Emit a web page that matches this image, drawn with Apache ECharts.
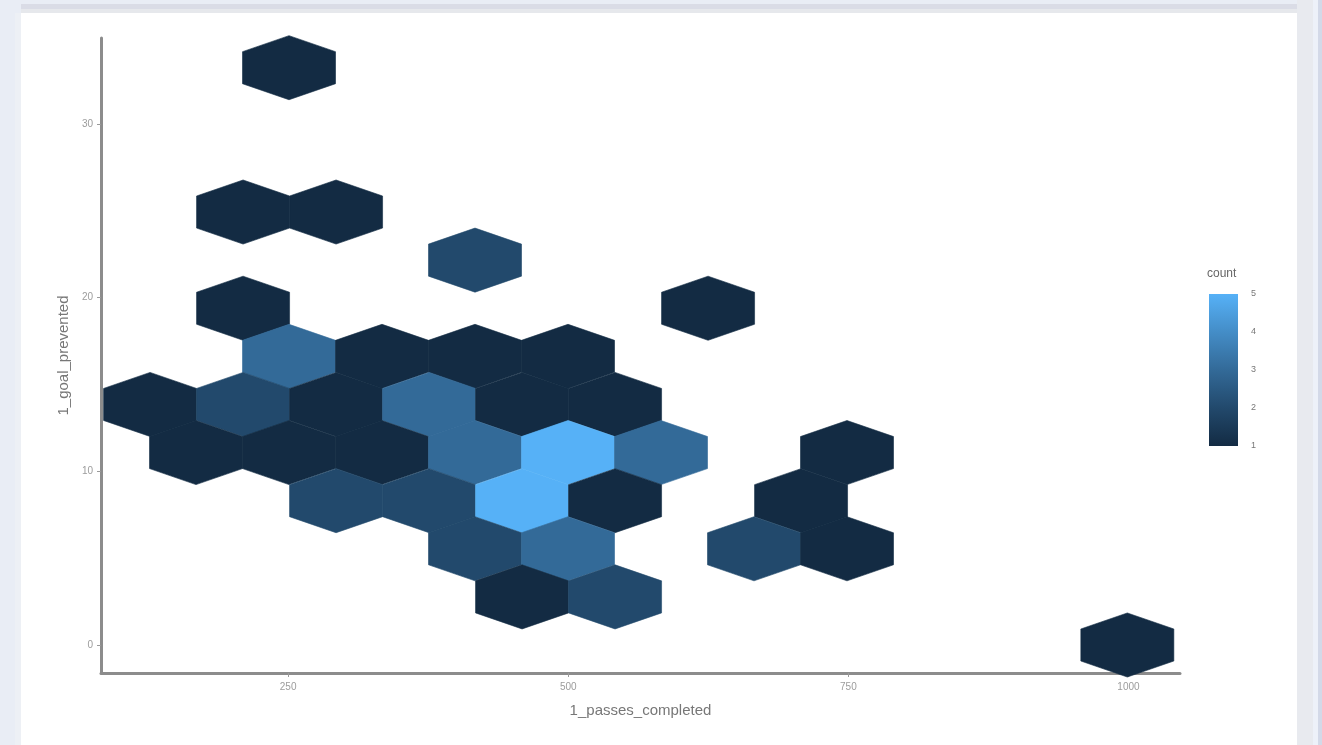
<!DOCTYPE html>
<html>
<head>
<meta charset="utf-8">
<title>Hexbin: passes completed vs goals prevented</title>
<script src="https://cdn.jsdelivr.net/npm/echarts@6/dist/echarts.min.js"></script>
<style>
  html, body { margin: 0; padding: 0; width: 1322px; height: 745px; overflow: hidden; background: #e9edf5; }
  .band { position: absolute; }
  #chart { position: absolute; left: 0; top: 0; width: 1322px; height: 745px; }
</style>
</head>
<body>
<!-- page frame around the chart card -->
<div class="band" style="left:21px;top:4px;width:1276px;height:5px;background:#dadce6;"></div>
<div class="band" style="left:21px;top:9px;width:1276px;height:4px;background:#e6e8ec;"></div>
<div class="band" style="left:15px;top:13px;width:6px;height:732px;background:#edf0f5;"></div>
<div class="band" style="left:21px;top:13px;width:1276px;height:732px;background:#ffffff;"></div>
<div class="band" style="left:1297px;top:0;width:16px;height:745px;background:#e8eaef;"></div>
<div class="band" style="left:1313px;top:0;width:5px;height:745px;background:#edf1f9;"></div>
<div class="band" style="left:1318px;top:0;width:4px;height:745px;background:#d3d9e8;"></div>
<div id="chart"></div>
<script>
// Axis ticks
const xTicks = [250, 500, 750, 1000];
const yTicks = [0, 10, 20, 30];
const countTicks = [1, 2, 3, 4, 5];

// Hex bin centres and the number of players in each bin
const hexX = [
  250.8,
  209.8, 292.8,
  416.8,
  209.8, 624.8,
  250.8, 333.8, 416.8, 499.8,
  126.8, 209.8, 292.8, 375.8, 458.8, 541.8,
  167.8, 250.8, 333.8, 416.8, 499.8, 582.8, 748.8,
  292.8, 375.8, 458.8, 541.8, 707.8,
  416.8, 499.8, 665.8, 748.8,
  458.8, 541.8,
  999.0
];
const hexY = [
  33.24,
  24.93, 24.93,
  22.16,
  19.39, 19.39,
  16.62, 16.62, 16.62, 16.62,
  13.85, 13.85, 13.85, 13.85, 13.85, 13.85,
  11.08, 11.08, 11.08, 11.08, 11.08, 11.08, 11.08,
  8.31, 8.31, 8.31, 8.31, 8.31,
  5.54, 5.54, 5.54, 5.54,
  2.77, 2.77,
  0.0
];
const hexCount = [
  1,
  1, 1,
  2,
  1, 1,
  3, 1, 1, 1,
  1, 2, 1, 3, 1, 1,
  1, 1, 1, 3, 5, 3, 1,
  2, 2, 5, 1, 1,
  2, 3, 2, 1,
  1, 2,
  1
];

// Bin geometry in data units
const binHalfWidth = 41.5;   // half the column spacing
const binRadius = 1.845;     // centre-to-vertex height

// Low-to-high fill ramp for counts 1..5
const rampColors = ['#132B43', '#22496C', '#336A98', '#448DC7', '#56B1F7'];

const FONT = '"Liberation Sans", Arial, sans-serif';

const chart = echarts.init(document.getElementById('chart'), null, { renderer: 'canvas' });

const hexData = hexX.map((x, i) => [x, hexY[i], hexCount[i]]);

const plainNumber = v => String(v);

const option = {
  backgroundColor: 'transparent',
  animation: false,
  textStyle: { fontFamily: FONT },
  grid: [
    { left: 101, top: 38, width: 1079, height: 635, containLabel: false, outerBoundsMode: 'none' },
    { left: 1209, top: 294, width: 29, height: 152, containLabel: false, outerBoundsMode: 'none' }
  ],
  xAxis: [
    {
      gridIndex: 0,
      type: 'value',
      min: 83,
      max: 1046,
      name: '1_passes_completed',
      nameLocation: 'middle',
      nameGap: 30,
      nameTextStyle: { color: '#777777', fontSize: 15, fontFamily: FONT },
      axisLine: { show: true, onZero: false, lineStyle: { color: '#8c8c8c', width: 3 } },
      axisTick: { show: true, customValues: xTicks, length: 4, lineStyle: { color: '#9a9a9a', width: 1 } },
      axisLabel: { show: true, customValues: xTicks, formatter: plainNumber, color: '#9c9c9c', fontSize: 10, margin: 9, fontFamily: FONT },
      splitLine: { show: false }
    },
    { gridIndex: 1, type: 'value', min: 0, max: 1, show: false }
  ],
  yAxis: [
    {
      gridIndex: 0,
      type: 'value',
      min: -1.612,
      max: 34.95,
      name: '1_goal_prevented',
      nameLocation: 'middle',
      nameGap: 30,
      nameRotate: 90,
      nameTextStyle: { color: '#777777', fontSize: 15, fontFamily: FONT },
      axisLine: { show: true, onZero: false, lineStyle: { color: '#8c8c8c', width: 3 } },
      axisTick: { show: true, customValues: yTicks, length: 4, lineStyle: { color: '#9a9a9a', width: 1 } },
      axisLabel: { show: true, customValues: yTicks, formatter: plainNumber, color: '#9c9c9c', fontSize: 10, margin: 8, fontFamily: FONT },
      splitLine: { show: false }
    },
    {
      gridIndex: 1,
      type: 'value',
      min: 1,
      max: 5,
      position: 'right',
      axisLine: { show: false },
      axisTick: { show: false },
      axisLabel: { show: true, customValues: countTicks, formatter: plainNumber, color: '#777777', fontSize: 9, margin: 13, fontFamily: FONT },
      splitLine: { show: false }
    }
  ],
  visualMap: {
    type: 'continuous',
    show: false,
    min: 1,
    max: 5,
    dimension: 2,
    seriesIndex: 0,
    inRange: { color: rampColors }
  },
  graphic: [
    {
      type: 'text',
      left: 1207,
      top: 268,
      style: { text: 'count', fill: '#666666', font: '12px ' + FONT }
    }
  ],
  series: [
    {
      type: 'custom',
      name: 'count',
      xAxisIndex: 0,
      yAxisIndex: 0,
      coordinateSystem: 'cartesian2d',
      encode: { x: 0, y: 1 },
      clip: false,
      data: hexData,
      renderItem: function (params, api) {
        const cx = api.value(0);
        const cy = api.value(1);
        const w = binHalfWidth, r = binRadius;
        const pts = [
          [cx, cy + r],
          [cx + w, cy + r / 2],
          [cx + w, cy - r / 2],
          [cx, cy - r],
          [cx - w, cy - r / 2],
          [cx - w, cy + r / 2]
        ].map(p => api.coord(p));
        const c = api.visual('color');
        return {
          type: 'polygon',
          shape: { points: pts },
          style: { fill: c, stroke: c, lineWidth: 0.6 }
        };
      }
    },
    {
      // colour bar for the count scale
      type: 'custom',
      xAxisIndex: 1,
      yAxisIndex: 1,
      coordinateSystem: 'cartesian2d',
      data: [[0, 1, 1, 5]],
      silent: true,
      renderItem: function (params, api) {
        const p0 = api.coord([api.value(0), api.value(3)]);
        const p1 = api.coord([api.value(2), api.value(1)]);
        const stops = rampColors.slice().reverse().map((c, i) => ({ offset: i / (rampColors.length - 1), color: c }));
        return {
          type: 'rect',
          shape: { x: p0[0], y: p0[1], width: p1[0] - p0[0], height: p1[1] - p0[1] },
          style: { fill: new echarts.graphic.LinearGradient(0, 0, 0, 1, stops) }
        };
      }
    }
  ]
};

chart.setOption(option);
</script>
</body>
</html>
